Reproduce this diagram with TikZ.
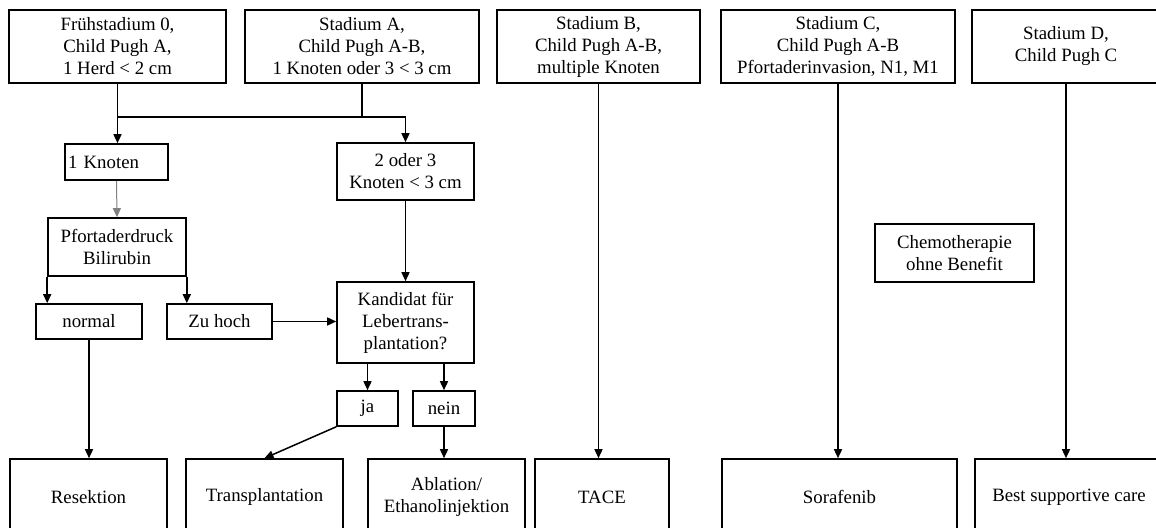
\documentclass[tikz,border=0pt]{standalone}
\usepackage{fontspec}
\setmainfont{Liberation Serif}
\usetikzlibrary{arrows.meta,positioning}

\begin{document}
\begin{tikzpicture}[x=0.5pt,y=-0.5pt,
  box/.style={draw,line width=0.8pt,align=center,inner sep=1pt,font=\fontsize{9.4}{11}\selectfont},
  stage/.style={box,minimum height=36.5pt},
  therapy/.style={box,minimum height=38pt,minimum width=78.5pt},
  arr/.style={line width=0.75pt,-{Triangle[length=4.5pt,width=4pt]}}]
\useasboundingbox (0,0) rectangle (1156,528);
% stages
\node[stage,minimum width=108.5pt] (f0) at (117.5,46.5) {Frühstadium 0,\\Child Pugh A,\\1 Herd < 2 cm};
\node[stage,minimum width=117pt] (sa) at (362,46.5) {Stadium A,\\Child Pugh A-B,\\1 Knoten oder 3 < 3 cm};
\node[stage,minimum width=101.5pt] (sb) at (598.5,46.5) {Stadium B,\\Child Pugh A-B,\\multiple Knoten};
\node[stage,minimum width=117pt] (sc) at (838,46.5) {Stadium C,\\Child Pugh A-B\\Pfortaderinvasion, N1, M1};
\node[stage,minimum width=94pt] (sd) at (1066,46.5) {Stadium D,\\Child Pugh C};
% decisions
\node[box,align=left,inner xsep=1.5pt,text width=48.5pt,minimum height=18pt] (k1) at (116.5,162) {1 Knoten};
\node[box,minimum width=68.5pt,minimum height=28.5pt] (k23) at (405.5,171.5) {2 oder 3\\Knoten < 3 cm};
\node[box,minimum width=69pt,minimum height=29pt] (pd) at (117,247) {Pfortaderdruck\\Bilirubin};
\node[box,minimum width=53pt,minimum height=17.5pt] (nor) at (89,321.5) {normal};
\node[box,minimum width=52.5pt,minimum height=17.5pt] (zh) at (219.5,321.5) {Zu hoch};
\node[box,minimum width=68.5pt,minimum height=40.5pt] (kand) at (405.5,322.5) {Kandidat für\\Lebertrans-\\plantation?};
\node[box,minimum width=30.5pt,minimum height=17.5pt] (ja) at (367.5,408.5) {ja};
\node[box,minimum width=31pt,minimum height=17.5pt] (nein) at (444,408.5) {nein};
\node[box,minimum width=79.5pt,minimum height=29pt] (chemo) at (954.5,253) {Chemotherapie\\ohne Benefit};
% therapies
\node[therapy] (res) at (88.5,497) {Resektion};
\node[therapy] (tx) at (264.5,497) {Transplantation};
\node[therapy] (abl) at (446.5,497) {Ablation/\\Ethanolinjektion};
\node[therapy,minimum width=67pt] (tace) at (602,497) {TACE};
\node[therapy,minimum width=117.5pt] (sora) at (839.5,497) {Sorafenib};
\node[therapy,minimum width=94pt] (bsc) at (1069,497) {Best supportive care};
% connectors
\coordinate (split) at (117.5,117);
\draw[line width=0.75pt] (sa.south) -- (sa.south |- split);
\draw[arr] (f0.south) -- (f0.south |- k1.north);
\draw[arr] (split) -| (k23.north);
\draw[arr,gray,line width=0.5pt] (k1.south) -- (pd.north);
\draw[arr] (pd.south west) -- (pd.south west |- nor.north);
\draw[arr] (pd.south east) -- (pd.south east |- zh.north);
\draw[arr] (nor.south) -- (nor.south |- res.north);
\draw[arr] (zh.east) -- (kand.west |- zh.east);
\draw[arr] (k23.south) -- (kand.north);
\draw[arr] (ja.north |- kand.south) -- (ja.north);
\draw[arr] (nein.north |- kand.south) -- (nein.north);
\draw[arr] (ja.south west) -- (tx.north);
\draw[arr] (nein.south) -- (nein.south |- abl.north);
\draw[arr] (sb.south) -- (sb.south |- tace.north);
\draw[arr] (sc.south) -- (sc.south |- sora.north);
\draw[arr] (sd.south) -- (sd.south |- bsc.north);
\end{tikzpicture}
\end{document}
